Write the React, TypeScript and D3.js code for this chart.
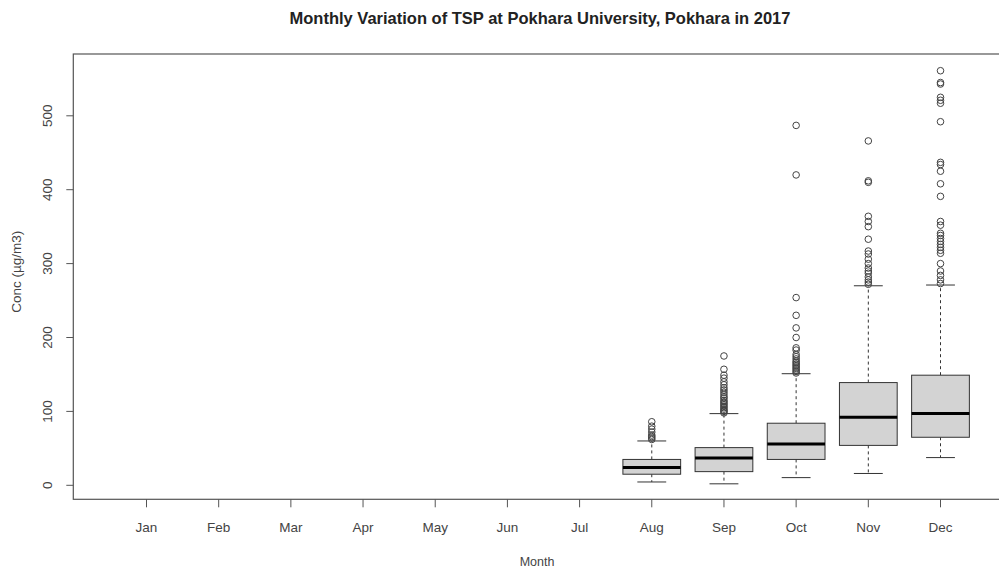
import React from "react";
import * as d3 from "d3";

const months = ["Jan", "Feb", "Mar", "Apr", "May", "Jun", "Jul", "Aug", "Sep", "Oct", "Nov", "Dec"];
const yTicks = [0, 100, 200, 300, 400, 500];

// box statistics for months with data: [lowWhisker, q1, median, q3, highWhisker]
const boxMonths = ["Aug", "Sep", "Oct", "Nov", "Dec"];
const lowWhisker = [4.5, 2, 10.4, 16, 37.5];
const q1 = [15, 18.5, 35, 54, 65];
const median = [24, 37, 56, 92, 97];
const q3 = [35, 51, 84, 139, 149];
const highWhisker = [60, 97, 151, 270, 271];

const outliersAug = [62, 64, 66, 68, 72, 76, 80, 86];
const outliersSep = [98, 100, 101, 103, 105, 107, 109, 111, 113, 115, 118, 120, 123, 126, 129, 132, 136, 140, 145, 149, 157, 175];
const outliersOct = [152, 154, 156, 158, 160, 162, 164, 166, 168, 171, 174, 177, 183, 186, 200, 213, 230, 254, 420, 487];
const outliersNov = [272, 275, 278, 282, 287, 290, 294, 300, 306, 313, 317, 333, 350, 357, 364, 410, 412, 466];
const outliersDec = [273, 278, 284, 290, 300, 314, 318, 322, 326, 330, 334, 338, 341, 352, 357, 391, 408, 425, 434, 437, 492, 517, 521, 525, 543, 545, 561];
const outliers = [outliersAug, outliersSep, outliersOct, outliersNov, outliersDec];

const W = 999;
const H = 570;
const plotLeft = 73.3;
const plotTop = 54;
const plotBottom = 499.3;

export default function App() {
  const x = d3.scaleLinear().domain([1, 12]).range([146.5, 940.5]);
  const step = x(2) - x(1);
  const plotRight = x(12.5) + step * 0.52;
  const y = d3.scaleLinear().domain([0, 500]).range([485.3, 115.8]);
  const boxW = step * 0.8;
  const capW = boxW * 0.5;
  const font = "Liberation Sans, Arial, sans-serif";
  const textColor = "#444";
  const fs = 13.5;

  return (
    <svg width={W} height={H} style={{ position: "absolute", left: 0, top: 0, background: "#fff" }}>
      <rect x={0} y={0} width={W} height={H} fill="#fff" />
      <text x={540} y={24} textAnchor="middle" fontFamily={font} fontWeight="bold" fontSize={16.5} fill="#222">
        Monthly Variation of TSP at Pokhara University, Pokhara in 2017
      </text>

      {/* boxes */}
      {boxMonths.map((m, i) => {
        const cx = x(months.indexOf(m) + 1);
        return (
          <g key={m}>
            <line x1={cx} x2={cx} y1={y(q3[i])} y2={y(highWhisker[i])} stroke="#333" strokeDasharray="3,3" />
            <line x1={cx} x2={cx} y1={y(q1[i])} y2={y(lowWhisker[i])} stroke="#333" strokeDasharray="3,3" />
            <line x1={cx - capW / 2} x2={cx + capW / 2} y1={y(highWhisker[i])} y2={y(highWhisker[i])} stroke="#333" />
            <line x1={cx - capW / 2} x2={cx + capW / 2} y1={y(lowWhisker[i])} y2={y(lowWhisker[i])} stroke="#333" />
            <rect x={cx - boxW / 2} y={y(q3[i])} width={boxW} height={y(q1[i]) - y(q3[i])} fill="#d3d3d3" stroke="#333" />
            <line x1={cx - boxW / 2} x2={cx + boxW / 2} y1={y(median[i])} y2={y(median[i])} stroke="#000" strokeWidth={3} />
            {outliers[i].map((v, j) => (
              <circle key={j} cx={cx} cy={y(v)} r={3.3} fill="none" stroke="#444" strokeWidth={1} />
            ))}
          </g>
        );
      })}

      {/* frame */}
      <rect x={plotLeft} y={plotTop} width={plotRight - plotLeft} height={plotBottom - plotTop} fill="none" stroke="#555" strokeWidth={1.2} />

      {/* y axis */}
      {yTicks.map((t) => (
        <g key={t}>
          <line x1={plotLeft - 7} x2={plotLeft} y1={y(t)} y2={y(t)} stroke="#555" />
          <text
            transform={`translate(${47},${y(t)}) rotate(-90)`}
            textAnchor="middle"
            dominantBaseline="central"
            fontFamily={font}
            fontSize={fs}
            fill={textColor}
          >
            {t}
          </text>
        </g>
      ))}
      <text
        transform={`translate(${16},${(plotTop + plotBottom) / 2 - 5}) rotate(-90)`}
        textAnchor="middle"
        dominantBaseline="central"
        fontFamily={font}
        fontSize={fs}
        fill={textColor}
      >
        Conc (µg/m3)
      </text>

      {/* x axis */}
      {months.map((m, i) => (
        <g key={m}>
          <line x1={x(i + 1)} x2={x(i + 1)} y1={plotBottom} y2={plotBottom + 8} stroke="#555" />
          <text x={x(i + 1)} y={527} textAnchor="middle" dominantBaseline="central" fontFamily={font} fontSize={fs} fill={textColor}>
            {m}
          </text>
        </g>
      ))}
      <text x={537} y={562} textAnchor="middle" dominantBaseline="central" fontFamily={font} fontSize={12.5} fill={textColor}>
        Month
      </text>
    </svg>
  );
}
